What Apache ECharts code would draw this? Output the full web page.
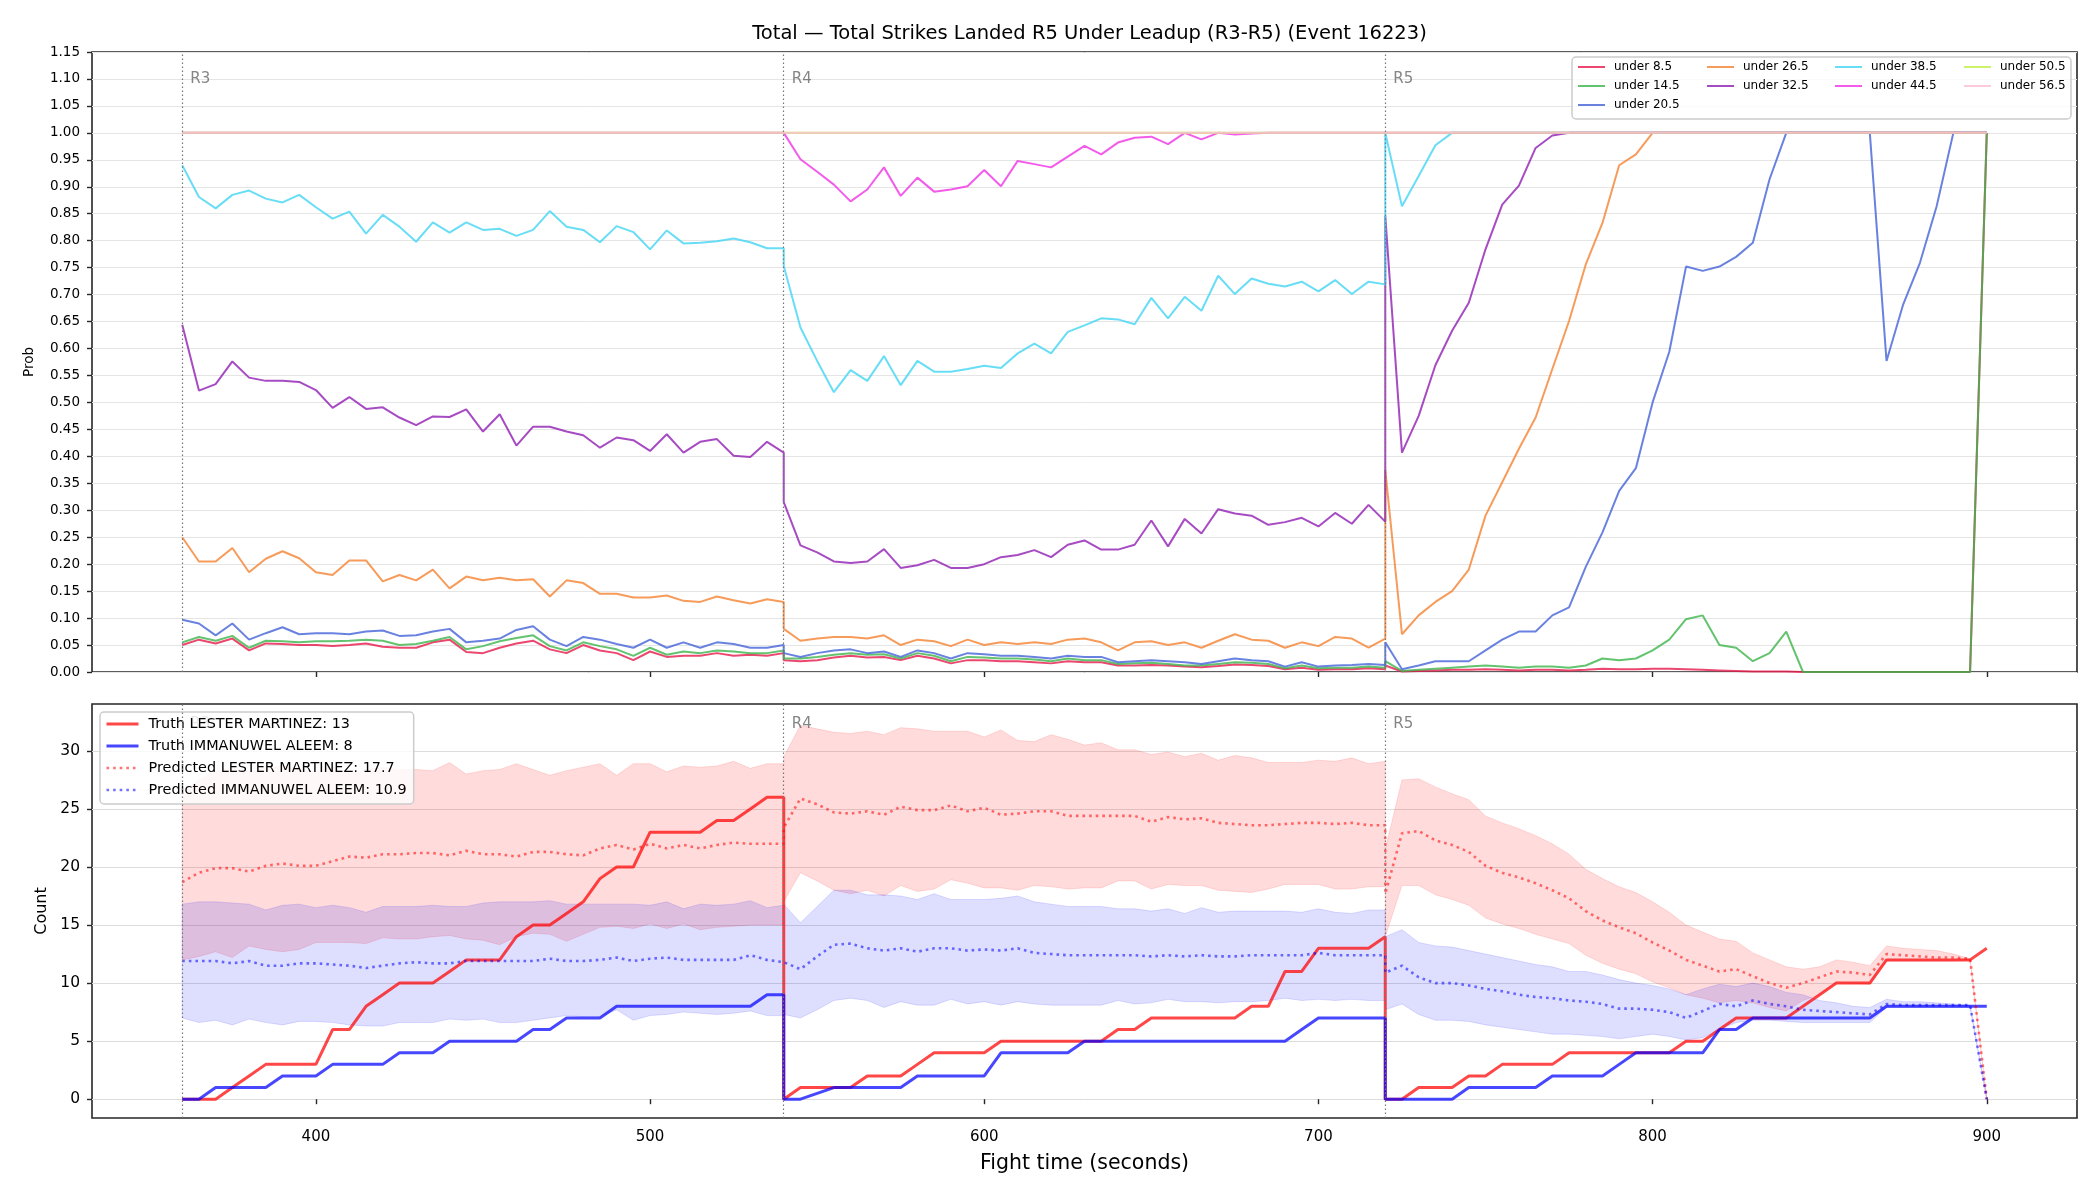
<!DOCTYPE html>
<html>
<head>
<meta charset="utf-8">
<title>Total Strikes Landed R5 Under Leadup</title>
<script src="https://cdn.jsdelivr.net/npm/echarts@6.0.0/dist/echarts.min.js"></script>
<style>
    html, body { margin: 0; padding: 0; background: #fff; }
    #chart { width: 2100px; height: 1200px; }
</style>
</head>
<body>
<div id="chart"></div>
<script>
// fight time (s), R4 and R5 start by repeating the round start
const tR3 = [360,365,370,375,380,385,390,395,400,405,410,415,420,425,430,435,440,445,450,455,460,465,470,475,480,485,490,495,500,505,510,515,520,525,530,535,540]
const tR4 = [540,545,550,555,560,565,570,575,580,585,590,595,600,605,610,615,620,625,630,635,640,645,650,655,660,665,670,675,680,685,690,695,700,705,710,715,720]
const tR5 = [720,725,730,735,740,745,750,755,760,765,770,775,780,785,790,795,800,805,810,815,820,825,830,835,840,845,850,855,860,865,870,875,880,885,890,895,900]

const roundStarts = [360, 540, 720]
const roundNames = ['R3', 'R4', 'R5']

const lineNames = ['under 8.5','under 14.5','under 20.5','under 26.5','under 32.5','under 38.5','under 44.5','under 50.5','under 56.5']

const ones = [1,1,1,1,1,1,1,1,1,1, 1,1,1,1,1,1,1,1,1,1, 1,1,1,1,1,1,1,1,1,1, 1,1,1,1,1,1,1]

// prob under x.5
const u85R3 = [.050,.060,.053,.062,.040,.053,.052,.050,.050,.048, .050,.053,.047,.045,.045,.055,.060,.037,.035,.045, .053,.058,.042,.035,.050,.040,.035,.022,.038,.028, .030,.030,.035,.030,.032,.030,.035]
const u85R4 = [.022,.020,.022,.027,.030,.027,.028,.022,.030,.025, .016,.022,.022,.020,.020,.018,.016,.020,.018,.018, .012,.012,.013,.012,.010,.009,.011,.014,.013,.011, .005,.008,.004,.005,.005,.007,.005]
const u85R5 = [.012,.001,.002,.003,.004,.004,.005,.004,.003,.004, .004,.003,.004,.006,.005,.005,.006,.006,.005,.004, .003,.002,.001,.001,.001,0,0,0,0,0, 0,0,0,0,0,0,1]

const u145R3 = [.055,.065,.058,.067,.045,.058,.057,.055,.057,.057, .058,.060,.058,.050,.052,.058,.065,.042,.048,.057, .063,.068,.048,.040,.055,.048,.042,.030,.045,.032, .038,.035,.040,.038,.035,.035,.040]
const u145R4 = [.025,.025,.028,.032,.035,.032,.033,.025,.035,.030, .020,.028,.027,.025,.025,.023,.020,.025,.022,.022, .015,.016,.017,.015,.012,.012,.015,.018,.017,.015, .007,.012,.007,.008,.008,.010,.008]
const u145R5 = [.020,.002,.004,.006,.008,.010,.012,.010,.008,.010, .010,.008,.012,.025,.022,.025,.040,.060,.098,.105, .050,.045,.020,.035,.075,0,0,0,0,0, 0,0,0,0,0,0,1]

const u205R3 = [.097,.090,.068,.090,.060,.072,.083,.070,.072,.072, .070,.075,.077,.067,.068,.075,.080,.055,.058,.062, .078,.085,.060,.048,.065,.060,.052,.045,.060,.045, .055,.045,.055,.052,.045,.045,.050]
const u205R4 = [.035,.028,.035,.040,.042,.035,.038,.028,.040,.035, .025,.035,.033,.030,.030,.028,.025,.030,.028,.028, .018,.020,.022,.020,.018,.015,.020,.025,.022,.020, .010,.018,.010,.012,.013,.015,.013]
const u205R5 = [.055,.005,.012,.020,.020,.020,.040,.060,.075,.075, .105,.120,.195,.259,.336,.378,.500,.594,.752,.744, .752,.770,.796,.914,1,1,1,1,1,1, .577,.682,.759,.864,1,1,1]

const u265R3 = [.250,.205,.205,.230,.185,.210,.224,.211,.185,.180, .207,.207,.168,.180,.170,.190,.155,.177,.170,.175, .170,.172,.140,.170,.165,.145,.145,.138,.138,.142, .132,.130,.140,.133,.127,.135,.130]
const u265R4 = [.080,.058,.062,.065,.065,.062,.068,.050,.060,.057, .048,.060,.050,.055,.052,.055,.052,.060,.062,.055, .040,.055,.057,.050,.055,.045,.058,.070,.060,.058, .045,.055,.048,.065,.062,.045,.062]
const u265R5 = [.375,.070,.105,.130,.150,.190,.290,.352,.414,.472, .562,.651,.756,.833,.940,.960,1,1,1,1, 1,1,1,1,1,1,1,1,1,1, 1,1,1,1,1,1,1]

const u325R3 = [.644,.522,.534,.576,.546,.540,.540,.538,.523,.490, .510,.488,.491,.472,.458,.474,.473,.487,.446,.478, .420,.455,.455,.446,.439,.416,.435,.430,.410,.441, .407,.427,.432,.401,.399,.427,.407]
const u325R4 = [.315,.235,.222,.205,.202,.205,.228,.193,.198,.208, .193,.193,.200,.213,.217,.226,.213,.236,.244,.227, .227,.236,.281,.233,.284,.257,.302,.294,.290,.273, .278,.286,.270,.295,.275,.310,.279]
const u325R5 = [.846,.407,.475,.569,.633,.685,.784,.867,.902,.972, .995,1,1,1,1,1,1,1,1,1, 1,1,1,1,1,1,1,1,1,1, 1,1,1,1,1,1,1]

const u385R3 = [.940,.881,.860,.885,.893,.878,.871,.885,.862,.841, .854,.813,.848,.826,.798,.834,.815,.834,.820,.822, .809,.820,.855,.826,.820,.797,.827,.816,.784,.819, .795,.796,.799,.804,.797,.786,.786]
const u385R4 = [.753,.639,.577,.519,.560,.540,.586,.532,.577,.557, .557,.562,.568,.564,.591,.609,.591,.631,.643,.656, .654,.645,.694,.656,.696,.670,.735,.701,.730,.720, .715,.724,.706,.727,.701,.724,.719]
const u385R5 = [1,.864,.920,.977,1,1,1,1,1,1, 1,1,1,1,1,1,1,1,1,1, 1,1,1,1,1,1,1,1,1,1, 1,1,1,1,1,1,1]

const u445R4 = [1,.951,.928,.904,.873,.895,.936,.883,.917,.891, .895,.901,.931,.901,.948,.942,.936,.956,.976,.960, .982,.991,.993,.979,1,.988,1,.997,.999,1, 1,1,1,1,1,1,1]

// counts
const fighters = ['LESTER MARTINEZ', 'IMMANUWEL ALEEM']
const truthFinal = [13, 8]
const predFinal = [17.7, 10.9]

const truthAR3 = [0,0,0,1,2,3,3,3,3,6, 6,8,9,10,10,10,11,12,12,12, 14,15,15,16,17,19,20,20,23,23, 23,23,24,24,25,26,26]
const truthAR4 = [0,1,1,1,1,2,2,2,3,4, 4,4,4,5,5,5,5,5,5,5, 6,6,7,7,7,7,7,7,8,8, 11,11,13,13,13,13,14]
const truthAR5 = [0,0,1,1,1,2,2,3,3,3, 3,4,4,4,4,4,4,4,5,5, 6,7,7,7,7,8,9,10,10,10, 12,12,12,12,12,12,13]

const truthBR3 = [0,0,1,1,1,1,2,2,2,3, 3,3,3,4,4,4,5,5,5,5, 5,6,6,7,7,7,8,8,8,8, 8,8,8,8,8,9,9]
const truthBR4 = [0,0,0.5,1,1,1,1,1,2,2, 2,2,2,4,4,4,4,4,5,5, 5,5,5,5,5,5,5,5,5,5, 5,6,7,7,7,7,7]
const truthBR5 = [0,0,0,0,0,1,1,1,1,1, 2,2,2,2,3,4,4,4,4,4, 6,6,7,7,7,7,7,7,7,7, 8,8,8,8,8,8,8]

const predAR3 = [18.7,19.5,19.9,19.9,19.6,20.1,20.3,20.1,20.1,20.5, 20.9,20.8,21.1,21.1,21.2,21.2,21.0,21.4,21.1,21.1, 20.9,21.3,21.3,21.1,21.0,21.6,21.9,21.5,22.0,21.6, 21.9,21.6,21.9,22.1,22.0,22.0,22.0]
const predAR4 = [23.4,25.9,25.4,24.7,24.6,24.8,24.5,25.2,24.9,24.9, 25.3,24.8,25.1,24.5,24.6,24.8,24.8,24.4,24.4,24.4, 24.4,24.4,23.9,24.3,24.1,24.2,23.8,23.7,23.6,23.6, 23.7,23.8,23.8,23.7,23.8,23.6,23.6]
const predAR5 = [17.7,22.9,23.1,22.3,21.9,21.3,20.1,19.5,19.1,18.6, 18.0,17.3,16.2,15.4,14.8,14.3,13.5,12.8,12.0,11.5, 11.0,11.2,10.6,10.0,9.6,10.0,10.5,11.0,10.9,10.7, 12.5,12.4,12.3,12.2,12.2,12.1,0]

const predBR3 = [11.9,11.9,11.9,11.7,11.9,11.5,11.5,11.7,11.7,11.6, 11.5,11.3,11.5,11.7,11.8,11.7,11.7,11.9,11.9,11.9, 11.9,11.9,12.1,11.9,11.9,12.0,12.2,11.9,12.1,12.2, 12.0,12.0,12.0,12.0,12.4,12.0,11.8]
const predBR4 = [11.7,11.2,12.3,13.3,13.4,13.0,12.8,13.0,12.7,13.0, 13.0,12.8,12.9,12.8,13.0,12.6,12.5,12.4,12.4,12.4, 12.4,12.4,12.3,12.4,12.3,12.4,12.3,12.3,12.4,12.4, 12.4,12.4,12.6,12.4,12.4,12.4,12.4]
const predBR5 = [10.9,11.5,10.5,10.0,10.0,9.8,9.5,9.3,9.0,8.8, 8.7,8.5,8.4,8.2,7.8,7.8,7.7,7.5,7.0,7.6, 8.2,8.0,8.5,8.2,8.0,7.7,7.6,7.5,7.4,7.3, 8.2,8.1,8.1,8.1,8.1,8.1,0]

// prediction bands
const bandAHiR3 = [26.5,27.5,28.3,28.5,28.2,28.5,28.7,28.4,28.2,28.6, 28.0,28.4,28.6,28.4,28.4,28.3,29.0,28.0,28.3,28.4, 28.9,28.4,27.9,28.3,28.6,28.9,27.9,28.9,28.9,28.2, 28.7,28.6,28.7,29.1,28.5,28.9,28.9]
const bandAHiR4 = [29.5,32.2,31.9,31.6,31.5,31.7,31.4,32.0,31.9,31.7, 31.7,31.7,31.2,31.8,30.9,30.8,31.4,31.0,30.5,30.7, 30.1,30.1,29.7,29.9,29.5,29.8,29.2,29.6,29.4,29.0, 29.0,29.0,29.2,29.1,29.4,28.9,29.1]
const bandAHiR5 = [21.5,27.5,27.6,26.9,26.3,25.8,24.4,23.8,23.3,22.7, 22.0,21.1,19.8,19.0,18.3,17.8,17.0,16.1,15.0,14.4, 13.8,13.6,12.6,12.0,11.4,11.2,11.4,12.0,11.8,11.5, 13.2,13.0,12.9,12.8,12.5,12.1,0]
const bandALoR3 = [12.0,12.3,12.7,12.2,13.2,12.9,12.7,12.9,13.5,13.5, 13.5,13.4,13.9,13.8,13.8,14.0,14.1,13.8,13.7,13.3, 14.0,14.3,14.2,13.6,14.2,14.8,14.9,14.7,15.1,14.7, 15.1,14.6,14.8,14.9,15.0,15.0,15.0]
const bandALoR4 = [17.0,19.5,18.8,18.0,17.7,18.0,17.5,18.4,17.9,18.1, 18.9,18.6,18.2,18.2,18.0,18.4,18.3,18.1,18.2,18.2, 18.8,18.8,18.1,18.5,18.4,18.4,18.0,17.9,17.8,18.1, 18.5,18.5,18.5,18.1,18.1,18.3,18.3]
const bandALoR5 = [14.0,18.4,18.4,17.6,17.2,16.7,15.6,15.1,14.7,14.2, 13.8,13.4,12.4,11.7,11.2,10.8,10.1,9.6,9.0,8.7, 8.3,8.5,8.3,7.9,7.6,8.5,9.0,10.1,10.0,9.9, 11.9,11.9,11.9,11.9,11.9,12.0,0]

const bandBHiR3 = [16.8,17.0,17.0,16.9,16.8,16.3,16.7,16.8,16.5,16.7, 16.5,16.1,16.6,16.6,16.6,16.7,16.6,16.6,16.9,17.0, 17.0,17.0,17.1,16.8,16.8,16.8,16.8,16.8,16.7,17.0, 16.4,16.8,16.7,16.8,17.1,16.5,16.7]
const bandBHiR4 = [16.8,15.2,16.6,18.0,18.0,17.6,17.6,17.5,17.2,17.7, 17.2,17.2,17.2,17.3,17.5,17.0,16.8,16.6,16.6,16.6, 16.4,16.4,16.2,16.4,16.0,16.5,16.1,16.2,16.2,16.2, 16.2,16.1,16.4,16.1,16.0,16.3,16.3]
const bandBHiR5 = [14.0,14.6,13.5,13.2,13.1,12.8,12.5,12.2,11.9,11.6, 11.4,11.0,11.0,10.7,10.3,10.0,9.8,9.5,9.0,9.5, 9.9,9.7,10.0,9.7,9.2,9.0,8.5,8.3,8.0,7.9, 8.6,8.4,8.4,8.3,8.2,8.1,0]
const bandBLoR3 = [7.0,6.6,6.8,6.4,6.9,6.6,6.4,6.7,6.7,6.6, 6.4,6.3,6.3,6.6,6.6,6.6,6.9,6.8,6.9,6.6, 6.6,6.8,7.0,7.2,7.1,7.1,7.7,6.8,7.2,7.3, 7.5,7.4,7.3,7.4,7.6,7.2,7.2]
const bandBLoR4 = [7.3,7.0,7.7,8.5,8.7,8.5,7.9,8.4,8.1,8.1, 8.6,8.2,8.4,8.1,8.4,8.2,8.1,8.1,8.1,8.1, 8.5,8.2,8.3,8.6,8.4,8.4,8.3,8.4,8.4,8.5, 8.7,8.5,8.6,8.5,8.6,8.5,8.5]
const bandBLoR5 = [7.7,8.2,7.3,6.8,6.8,6.7,6.4,6.2,6.0,5.8, 5.6,5.6,5.5,5.4,5.2,5.4,5.6,5.4,5.1,5.3, 6.0,6.6,6.8,6.8,6.7,6.6,6.6,6.6,6.6,6.6, 7.9,7.9,7.9,7.9,7.9,7.9,0]

const xTicks = [400, 500, 600, 700, 800, 900]
const countTicks = [0, 5, 10, 15, 20, 25, 30]

// glue the three rounds together as [time, value]
function rounds(a3, a4, a5) {
    return [].concat(
        tR3.map((t, i) => [t, a3[i]]),
        tR4.map((t, i) => [t, a4[i]]),
        tR5.map((t, i) => [t, a5[i]])
    )
}

const probData = [
    rounds(u85R3, u85R4, u85R5),
    rounds(u145R3, u145R4, u145R5),
    rounds(u205R3, u205R4, u205R5),
    rounds(u265R3, u265R4, u265R5),
    rounds(u325R3, u325R4, u325R5),
    rounds(u385R3, u385R4, u385R5),
    rounds(ones, u445R4, ones),
    rounds(ones, ones, ones),
    rounds(ones, ones, ones)
]
const palette = ['#e6194b','#3cb44b','#4363d8','#f58231','#911eb4','#42d4f4','#f032e6','#bfef45','#fabed4']

const FONT = 'DejaVu Sans'
const INK = '#262626'

let chart = echarts.init(document.getElementById('chart'))

function bandSeries(lo, hi, fill, edge) {
    let lower = rounds(lo[0], lo[1], lo[2])
    let upper = rounds(hi[0], hi[1], hi[2])
    return {
        type: 'custom',
        xAxisIndex: 1,
        yAxisIndex: 1,
        silent: true,
        z: 1,
        data: upper.map((p, i) => [p[0], lower[i][1], p[1]]),
        encode: { x: 0, y: [1, 2] },
        renderItem: function (params, api) {
            if (params.dataIndex !== 0) return null
            let pts = []
            upper.forEach(p => pts.push(api.coord(p)))
            for (let i = lower.length - 1; i >= 0; i--) pts.push(api.coord(lower[i]))
            return {
                type: 'polygon',
                shape: { points: pts },
                style: { fill: fill, stroke: edge, lineWidth: 1 }
            }
        }
    }
}

let series = []

// top: probability lines
probData.forEach((d, i) => {
    series.push({
        name: lineNames[i],
        type: 'line',
        xAxisIndex: 0,
        yAxisIndex: 0,
        data: d,
        symbol: 'none',
        color: palette[i],
        lineStyle: { width: 2, opacity: 0.8 },
        z: 2 + i * 0.01
    })
})

// round markers, top
series.push({
    type: 'scatter',
    xAxisIndex: 0,
    yAxisIndex: 0,
    silent: true,
    symbolSize: 0,
    data: roundStarts.map((t, i) => [t, 1.1, roundNames[i]]),
    label: {
        show: true, position: 'right', distance: 8,
        formatter: p => p.value[2], color: '#666', fontSize: 15, fontFamily: FONT
    },
    markLine: {
        silent: true, symbol: ['none', 'none'], label: { show: false },
        lineStyle: { type: [1.5, 2.5], color: '#777', width: 1.2 },
        data: roundStarts.map(t => ({ xAxis: t }))
    }
})

// bottom: bands, truth, predicted
series.push(bandSeries([bandALoR3, bandALoR4, bandALoR5], [bandAHiR3, bandAHiR4, bandAHiR5], 'rgba(255,0,0,0.14)', 'rgba(255,0,0,0.12)'))
series.push(bandSeries([bandBLoR3, bandBLoR4, bandBLoR5], [bandBHiR3, bandBHiR4, bandBHiR5], 'rgba(0,0,255,0.13)', 'rgba(0,0,255,0.12)'))

series.push({
    type: 'scatter',
    xAxisIndex: 1,
    yAxisIndex: 1,
    silent: true,
    symbolSize: 0,
    data: roundStarts.map((t, i) => [t, 32.3, roundNames[i]]),
    label: {
        show: true, position: 'right', distance: 8,
        formatter: p => p.value[2], color: '#666', fontSize: 15, fontFamily: FONT
    },
    markLine: {
        silent: true, symbol: ['none', 'none'], label: { show: false },
        lineStyle: { type: [1.5, 2.5], color: '#777', width: 1.2 },
        data: roundStarts.map(t => ({ xAxis: t }))
    }
})

const truthNames = fighters.map((f, i) => 'Truth ' + f + ': ' + truthFinal[i])
const predNames = fighters.map((f, i) => 'Predicted ' + f + ': ' + predFinal[i])

series.push({
    name: truthNames[0], type: 'line', xAxisIndex: 1, yAxisIndex: 1, symbol: 'none', z: 3,
    data: rounds(truthAR3, truthAR4, truthAR5), color: '#ff0000',
    lineStyle: { width: 3, opacity: 0.72 }
})
series.push({
    name: truthNames[1], type: 'line', xAxisIndex: 1, yAxisIndex: 1, symbol: 'none', z: 3,
    data: rounds(truthBR3, truthBR4, truthBR5), color: '#0000ff',
    lineStyle: { width: 3, opacity: 0.72 }
})
series.push({
    name: predNames[0], type: 'line', xAxisIndex: 1, yAxisIndex: 1, symbol: 'none', z: 3,
    data: rounds(predAR3, predAR4, predAR5), color: '#ff0000',
    lineStyle: { width: 2.6, opacity: 0.55, type: [2.6, 4] }
})
series.push({
    name: predNames[1], type: 'line', xAxisIndex: 1, yAxisIndex: 1, symbol: 'none', z: 3,
    data: rounds(predBR3, predBR4, predBR5), color: '#0000ff',
    lineStyle: { width: 2.6, opacity: 0.55, type: [2.6, 4] }
})

// legend handles are plain line segments, no marker
const noMarker = { opacity: 0, borderWidth: 0 }

// top legend: 4 columns, filled column by column like matplotlib
const legendCols = [lineNames.slice(0, 3), lineNames.slice(3, 5), lineNames.slice(5, 7), lineNames.slice(7, 9)]
const legendColX = [1577, 1706, 1834, 1963]
let legends = legendCols.map((names, i) => ({
    data: names,
    orient: 'vertical',
    left: legendColX[i],
    top: 61,
    padding: 0,
    itemWidth: 27,
    itemHeight: 12,
    itemGap: 7,
    selectedMode: false,
    itemStyle: noMarker,
    lineStyle: { width: 'inherit', opacity: 'inherit' },
    z: 5,
    textStyle: { fontFamily: FONT, fontSize: 12, color: '#000', padding: [0, 0, 0, 4] }
}))
legends.push({
    data: truthNames.concat(predNames),
    orient: 'vertical',
    left: 100,
    top: 712,
    padding: [5, 7, 7, 5],
    itemWidth: 32,
    itemHeight: 14,
    itemGap: 8,
    selectedMode: false,
    itemStyle: noMarker,
    lineStyle: { width: 'inherit', opacity: 'inherit', type: 'inherit' },
    backgroundColor: 'rgba(255,255,255,0.8)',
    borderColor: '#cccccc',
    borderWidth: 1.5,
    borderRadius: 4,
    z: 5,
    textStyle: { fontFamily: FONT, fontSize: 14.4, color: '#000', padding: [0, 0, 0, 5] }
})

let tickStyle = { show: true, length: 5, lineStyle: { color: INK, width: 1.4 } }

let option = {
    animation: false,
    backgroundColor: '#ffffff',
    textStyle: { fontFamily: FONT },
    title: {
        text: 'Total \u2014 Total Strikes Landed R5 Under Leadup (R3-R5) (Event 16223)',
        left: 1084.5,
        top: 19,
        textAlign: 'center',
        textStyle: { fontFamily: FONT, fontSize: 19.5, fontWeight: 'normal', color: '#000' }
    },
    legend: legends,
    graphic: [{
        type: 'rect',
        z: 3,
        shape: { x: 1572, y: 57, width: 499, height: 62, r: 4 },
        style: { fill: 'rgba(255,255,255,0.8)', stroke: '#cccccc', lineWidth: 1.5 }
    }],
    grid: [
        { left: 92, right: 23, top: 52, height: 620, show: true, borderColor: INK, borderWidth: 1.6, backgroundColor: 'transparent' },
        { left: 92, right: 23, top: 704, height: 414, show: true, borderColor: INK, borderWidth: 1.6, backgroundColor: 'transparent' }
    ],
    xAxis: [
        {
            gridIndex: 0, type: 'value', min: 333, max: 927,
            axisLine: { show: false },
            axisTick: Object.assign({ customValues: xTicks }, tickStyle),
            axisLabel: { show: false },
            splitLine: { show: false }
        },
        {
            gridIndex: 1, type: 'value', min: 333, max: 927,
            name: 'Fight time (seconds)',
            nameLocation: 'middle',
            nameGap: 35,
            nameTextStyle: { fontFamily: FONT, fontSize: 20.5, color: '#000' },
            axisLine: { show: false },
            axisTick: Object.assign({ customValues: xTicks }, tickStyle),
            axisLabel: { customValues: xTicks, fontFamily: FONT, fontSize: 15, color: '#000', margin: 12 },
            splitLine: { show: false }
        }
    ],
    yAxis: [
        {
            gridIndex: 0, type: 'value', min: 0, max: 1.15, interval: 0.05,
            name: 'Prob',
            nameLocation: 'middle',
            nameGap: 56,
            nameTextStyle: { fontFamily: FONT, fontSize: 13.5, color: '#000' },
            axisLine: { show: false },
            axisTick: tickStyle,
            axisLabel: { formatter: v => v.toFixed(2), fontFamily: FONT, fontSize: 13.5, color: '#000', margin: 12 },
            splitLine: { show: true, lineStyle: { color: '#e5e5e5', width: 1 } }
        },
        {
            gridIndex: 1, type: 'value', min: -1.62, max: 34.04,
            name: 'Count',
            nameLocation: 'middle',
            nameGap: 42,
            nameTextStyle: { fontFamily: FONT, fontSize: 16, color: '#000' },
            axisLine: { show: false },
            axisTick: Object.assign({ customValues: countTicks }, tickStyle),
            axisLabel: { customValues: countTicks, fontFamily: FONT, fontSize: 15.5, color: '#000', margin: 12 },
            splitLine: { show: true, lineStyle: { color: '#dcdcdc', width: 1 } }
        }
    ],
    series: series
}

chart.setOption(option)
</script>
</body>
</html>
